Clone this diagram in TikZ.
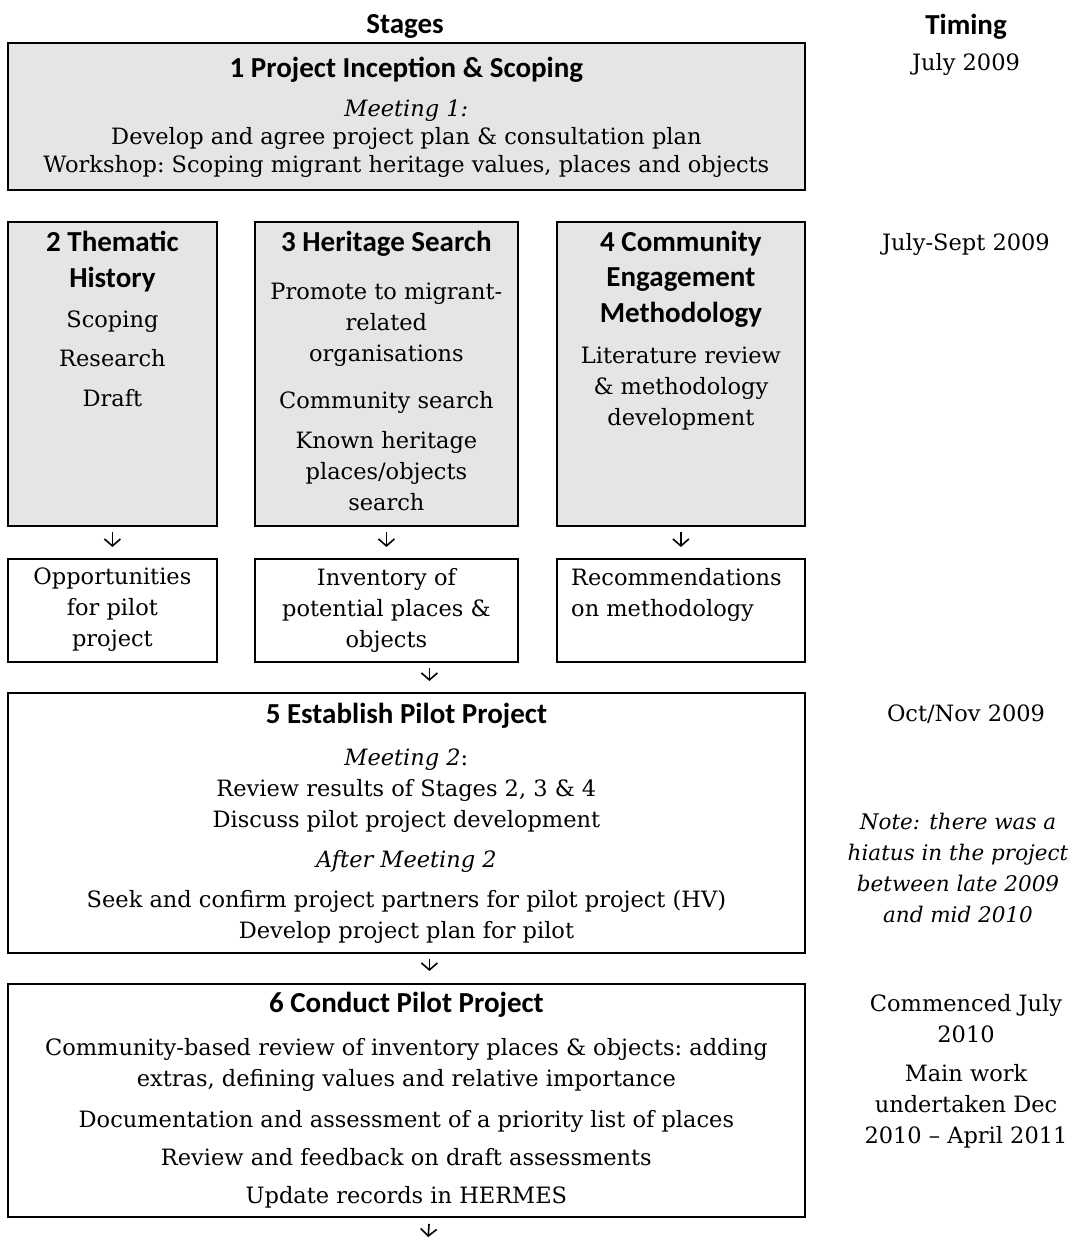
\documentclass[tikz,border=0pt]{standalone}
\usepackage{fontspec}
\setmainfont{DejaVu Serif}
\newfontfamily\headfont{Carlito}
\usetikzlibrary{positioning,arrows.meta}
\definecolor{boxgray}{gray}{0.9}
\newcommand{\bodysize}{\fontsize{22.5}{31}\selectfont\frenchspacing}
\newcommand{\headtxt}{\headfont\bfseries\fontsize{29}{36}\selectfont}

\begin{document}
\begin{tikzpicture}[x=1pt, y=-1pt,
    stagebox/.style={draw, line width=1.8pt, fill=boxgray, inner sep=0pt, anchor=north west},
    outbox/.style={draw, line width=1.8pt, inner sep=0pt, anchor=north west},
    txt/.style={align=center, inner sep=0pt, anchor=north, font=\bodysize},
    flow/.style={-{Straight Barb[length=7pt,width=16pt]}, line width=1.6pt}]
    \useasboundingbox (0,0) rectangle (1078,1241);

    % column headers
    \node[txt, font=\headtxt] (stages) at (405,14) {Stages};
    \node[txt, font=\headtxt] (timing) at (966,14) {Timing};

    % stage 1
    \node[stagebox, minimum width=797pt, minimum height=147pt] (s1) at (7,42) {};
    \node[txt] (s1txt) at ([yshift=-15pt]s1.north) {{\headtxt 1 Project Inception \& Scoping}\\[8pt]
        \textit{Meeting 1:}\\[-3pt]
        Develop and agree project plan \& consultation plan\\[-3pt]
        Workshop: Scoping migrant heritage values, places and objects};

    % stages 2, 3, 4
    \node[stagebox, minimum width=209pt, minimum height=304pt] (s2) at (7,221) {};
    \node[stagebox, minimum width=263pt, minimum height=304pt] (s3) at (254,221) {};
    \node[stagebox, minimum width=248pt, minimum height=304pt] (s4) at (556,221) {};

    \node[txt] (s2txt) at ([yshift=-10pt]s2.north) {{\headtxt 2 Thematic}\\[5pt]
        {\headtxt History}\\[9pt] Scoping\\[8pt] Research\\[9pt] Draft};
    \node[txt] (s3txt) at ([yshift=-10pt]s3.north) {{\headtxt 3 Heritage Search}\\[17pt]
        Promote to migrant-\\ related\\ organisations\\[16pt]
        Community search\\[9pt] Known heritage\\ places/objects\\ search};
    \node[txt] (s4txt) at ([yshift=-10pt]s4.north) {{\headtxt 4 Community}\\[4pt]
        {\headtxt Engagement}\\[5pt] {\headtxt Methodology}\\[10pt]
        Literature review\\ \& methodology\\ development};

    % outcomes
    \node[outbox, minimum width=209pt, minimum height=103pt] (o2) at (7,558) {};
    \node[outbox, minimum width=263pt, minimum height=103pt] (o3) at (254,558) {};
    \node[outbox, minimum width=248pt, minimum height=103pt] (o4) at (556,558) {};

    \node[txt] (o2txt) at ([yshift=-10pt]o2.north) {Opportunities\\ for pilot\\ project};
    \node[txt] (o3txt) at ([yshift=-10pt]o3.north) {Inventory of\\ potential places \&\\ objects};
    \node[txt, align=left, anchor=north west] (o4txt) at ([xshift=15pt,yshift=-10pt]o4.north west)
        {Recommendations\\ on methodology};

    \draw[flow, shorten <=5pt, shorten >=11pt] (s2.south) -- (o2.north);
    \draw[flow, shorten <=5pt, shorten >=11pt] (s3.south) -- (o3.north);
    \draw[flow, shorten <=5pt, shorten >=11pt] (s4.south) -- (o4.north);

    % stage 5
    \node[outbox, minimum width=797pt, minimum height=260pt] (s5) at (7,692) {};
    \node[txt] (s5txt) at ([yshift=-11pt]s5.north) {{\headtxt 5 Establish Pilot Project}\\[11pt]
        \textit{Meeting 2}:\\ Review results of Stages 2, 3 \& 4\\ Discuss pilot project development\\[9pt]
        \textit{After Meeting 2}\\[9pt]
        Seek and confirm project partners for pilot project (HV)\\ Develop project plan for pilot};

    \draw[flow, shorten <=5pt, shorten >=11pt] ([xshift=43pt]o3.south) -- ([xshift=43pt]o3.south |- s5.north);

    % stage 6
    \node[outbox, minimum width=797pt, minimum height=233pt] (s6) at (7,983) {};
    \node[txt] (s6txt) at ([yshift=-9pt]s6.north) {{\headtxt 6 Conduct Pilot Project}\\[12pt]
        Community-based review of inventory places \& objects: adding\\
        extras, defining values and relative importance\\[10pt]
        Documentation and assessment of a priority list of places\\[7pt]
        Review and feedback on draft assessments\\[7pt]
        Update records in HERMES};

    \draw[flow, shorten <=5pt, shorten >=12pt] ([xshift=23pt]s5.south) -- ([xshift=23pt]s5.south |- s6.north);
    \coordinate (fin) at (428,1241);
    \draw[flow, shorten <=6pt, shorten >=4pt] ([xshift=23pt]s6.south) -- (fin);

    % timing column
    \node[txt] (t1) at (966,53) {July 2009};
    \node[txt] (t2) at (966,233) {July-Sept 2009};
    \node[txt] (t3) at (966,705) {Oct/Nov 2009};
    \node[txt, font=\fontsize{21.5}{31}\selectfont\itshape] (note) at (958,813) {Note: there was a\\ hiatus in the project\\
        between late 2009\\ and mid 2010};
    \node[txt] (t4) at (966,994) {Commenced July\\ 2010\\[8pt] Main work\\ undertaken Dec\\ 2010 – April 2011};
\end{tikzpicture}
\end{document}
